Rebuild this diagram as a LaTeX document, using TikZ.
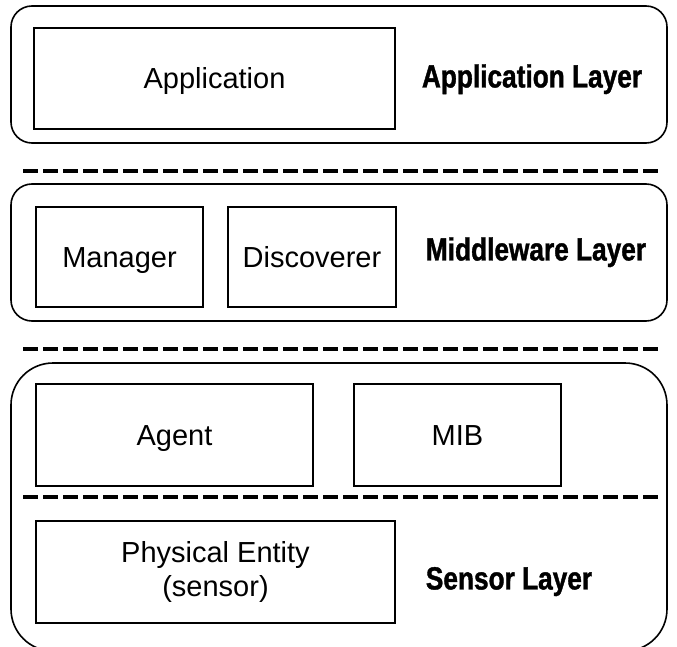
\documentclass[tikz,border=0pt]{standalone}
\usepackage{fontspec}
\setmainfont{Liberation Sans}
\newfontfamily\layerfont[FakeStretch=0.82,FakeBold=1.2]{Liberation Sans}
\begin{document}
\begin{tikzpicture}[x=1pt,y=-1pt,
    layerbox/.style={draw,line width=1.6pt,rounded corners=21pt,inner sep=0pt},
    unitbox/.style={draw,line width=1.5pt,inner sep=0pt,align=center,
        font=\fontsize{29}{34}\selectfont},
    onerow/.style={text height=20.8pt,text depth=0pt},
    layername/.style={text height=22.9pt,text depth=0pt,
        font=\layerfont\bfseries\fontsize{32}{36}\selectfont},
    separator/.style={line width=3.2pt,dash pattern=on 14.5pt off 5.5pt}]
    \useasboundingbox (0,0) rectangle (677,647);
    \clip (0,0) rectangle (677,647);
    % application layer
    \node[layerbox,minimum width=656pt,minimum height=137pt] (applayer) at (339,74.5) {};
    \node[unitbox,onerow,minimum width=361pt,minimum height=101pt] (app) at (214.5,78.5) {Application};
    \node[layername] (applabel) at (532,76) {Application Layer};
    % middleware layer
    \node[layerbox,minimum width=656pt,minimum height=137pt] (midlayer) at (339,252.5) {};
    \node[unitbox,onerow,minimum width=167pt,minimum height=100pt] (manager) at (119.5,257) {Manager};
    \node[unitbox,onerow,minimum width=168pt,minimum height=100pt] (disc) at (312,257) {Discoverer};
    \node[layername] (midlabel) at (536,249) {Middleware Layer};
    % sensor layer
    \node[layerbox,rounded corners=42pt,minimum width=656pt,minimum height=288pt] (senslayer) at (339,507) {};
    \node[unitbox,onerow,minimum width=277pt,minimum height=102pt] (agent) at (174.5,435) {Agent};
    \node[unitbox,onerow,minimum width=207pt,minimum height=102pt] (mib) at (457.5,435) {MIB};
    \node[unitbox,minimum width=359pt,minimum height=102pt] (phys) at (215.5,572) {Physical Entity\\(sensor)};
    \node[layername] (senslabel) at (509,578) {Sensor Layer};
    % dashed separators
    \coordinate (s1l) at (23,171); \coordinate (s1r) at (660,171);
    \coordinate (s2l) at (23,349); \coordinate (s2r) at (660,349);
    \coordinate (s3l) at (23,497); \coordinate (s3r) at (660,497);
    \draw[separator] (s1l) -- (s1r);
    \draw[separator] (s2l) -- (s2r);
    \draw[separator] (s3l) -- (s3r);
\end{tikzpicture}
\end{document}
